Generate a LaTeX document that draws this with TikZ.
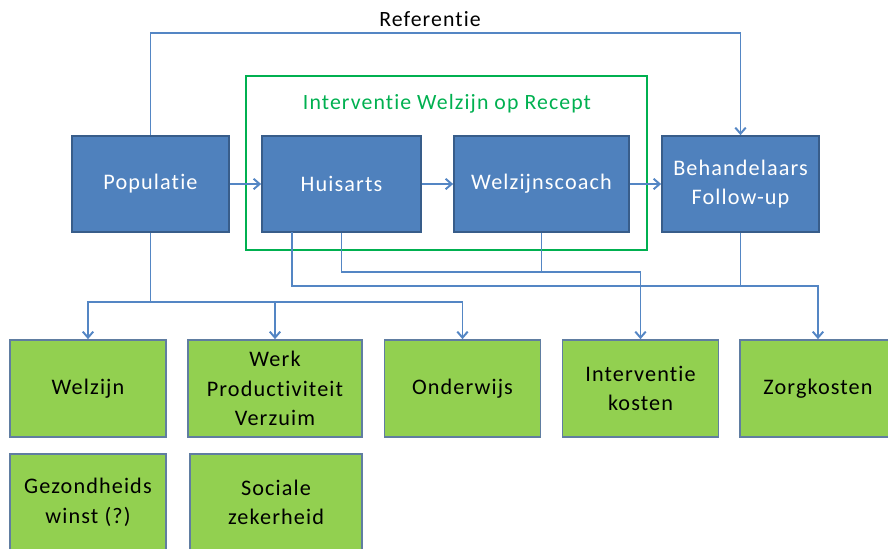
\documentclass[tikz,border=0pt]{standalone}
\usepackage{fontspec}
\setmainfont{Carlito}[LetterSpace=5,Ligatures=NoCommon]
\usetikzlibrary{arrows.meta,positioning,calc}
\definecolor{boxblue}{RGB}{79,129,189}
\definecolor{edgeblue}{RGB}{56,93,138}
\definecolor{linkblue}{RGB}{84,134,196}
\definecolor{outgreen}{RGB}{146,208,80}
\definecolor{framegreen}{RGB}{0,176,80}
\begin{document}
\begin{tikzpicture}[x=0.025cm,y=-0.025cm,
  >={Straight Barb[length=1.5mm,width=2.6mm]},
  blk/.style={draw=edgeblue, fill=boxblue, line width=1.2pt, minimum height=2.4cm, inner sep=0pt, text=white, align=center, font=\fontsize{15.8}{21}\selectfont},
  res/.style={draw=edgeblue!80, fill=outgreen, line width=1.2pt, minimum height=2.425cm, minimum width=3.9cm, inner sep=0pt, align=center, font=\fontsize{15.8}{21}\selectfont},
  ln/.style={linkblue, line width=1.4pt},
  wrp/.style={draw=framegreen, line width=1.3pt, minimum width=10.025cm, minimum height=4.35cm, inner sep=0pt},
  lab/.style={font=\fontsize{15.5}{18}\selectfont},
]
\useasboundingbox (0,0) rectangle (888,548);
\node[wrp] (wor) at (446.5,163) {};
\node[lab, text=framegreen] (worlab) at (447,104) {Interventie Welzijn op Recept};
\node[blk, minimum width=3.925cm] (pop) at (150.5,184) {Populatie};
\node[blk, minimum width=3.975cm] (hui) at (341.5,184) {Huisarts};
\node[blk, minimum width=4.375cm] (coach) at (541.5,184) {Welzijnscoach};
\node[blk, minimum width=3.925cm] (beh) at (740.5,184) {Behandelaars\\Follow-up};
\node[res] (welz) at (88,388.5) {Welzijn};
\node[res, minimum width=4.35cm] (werk) at (275,388.5) {Werk\\Productiviteit\\Verzuim};
\node[res] (onder) at (462.5,388.5) {Onderwijs};
\node[res] (ikost) at (640.5,388.5) {Interventie\\kosten};
\node[res] (zorg) at (818,388.5) {Zorgkosten};
\node[res] (gez) at (88,502.5) {Gezondheids\\winst (?)};
\node[res, minimum width=4.3cm] (soc) at (276,502.5) {Sociale\\zekerheid};
\coordinate (rtop) at (446,33);
\coordinate (pbus) at (150.5,302);
\coordinate (hleft) at (292,232);
\coordinate (kbus) at (541.5,272);
\coordinate (zbus) at (740.5,286);
\node[lab] (reflab) at (430,19) {Referentie};
\draw[ln,->] (pop) -- (hui);
\draw[ln,->] (hui) -- (coach);
\draw[ln,->] (coach) -- (beh);
\draw[ln,->] (pop.north) |- (rtop) -| (beh.north);
\draw[ln] (pop.south) -- (pbus);
\draw[ln,->] (pbus) -| (welz.north);
\draw[ln,->] (pbus) -| (werk.north);
\draw[ln,->] (pbus) -| (onder.north);
\draw[ln] (hui.south) |- (kbus);
\draw[ln] (coach.south) -- (kbus);
\draw[ln,->] (kbus) -| (ikost.north);
\draw[ln] (hleft) |- (zbus);
\draw[ln] (beh.south) -- (zbus);
\draw[ln,->] (zbus) -| (zorg.north);
\end{tikzpicture}
\end{document}
